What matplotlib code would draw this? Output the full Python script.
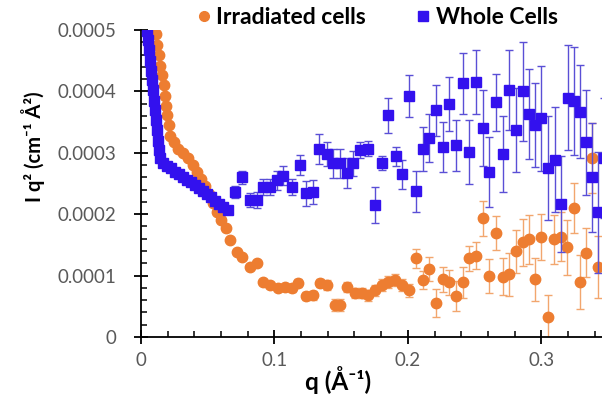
import matplotlib
matplotlib.use('Agg')
import matplotlib.pyplot as plt
from matplotlib.lines import Line2D
from matplotlib.ticker import MultipleLocator, FuncFormatter

plt.rcParams['font.family'] = ['Lato', 'DejaVu Sans']

# Irradiated cells (orange)
q_irr = [0.0112, 0.0120, 0.0135, 0.0142, 0.0157, 0.0172, 0.0180, 0.0187, 0.0195, 0.0210,
         0.0217, 0.0247, 0.0277, 0.0315, 0.0352, 0.0390, 0.0419, 0.0449, 0.0479, 0.0509,
         0.0539, 0.0569, 0.0599, 0.0637, 0.0667, 0.0719, 0.0757, 0.0816, 0.0869, 0.0914,
         0.0966, 0.1026, 0.1079, 0.1131, 0.1176, 0.1236, 0.1288, 0.1341, 0.1393, 0.1453,
         0.1491, 0.1543, 0.1603, 0.1655, 0.1700, 0.1753, 0.1805, 0.1850, 0.1903, 0.1955,
         0.2007, 0.2060, 0.2112, 0.2157, 0.2210, 0.2262, 0.2307, 0.2360, 0.2412, 0.2457,
         0.2509, 0.2562, 0.2607, 0.2659, 0.2712, 0.2757, 0.2809, 0.2861, 0.2906, 0.2951,
         0.2996, 0.3049, 0.3094, 0.3146, 0.3191, 0.3243, 0.3288, 0.3333, 0.3378, 0.3423]
i_irr = [4.94, 4.75, 4.59, 4.42, 4.26, 4.10, 3.93, 3.77, 3.61, 3.45,
         3.28, 3.17, 3.07, 2.99, 2.91, 2.80, 2.68, 2.57, 2.46, 2.33,
         2.18, 2.03, 1.90, 1.77, 1.58, 1.38, 1.30, 1.14, 1.20, 0.89,
         0.85, 0.80, 0.81, 0.80, 0.88, 0.67, 0.68, 0.88, 0.85, 0.52,
         0.52, 0.81, 0.72, 0.72, 0.68, 0.76, 0.85, 0.89, 0.93, 0.85,
         0.76, 1.28, 0.93, 1.11, 0.55, 0.94, 0.89, 0.67, 0.89, 1.28,
         1.32, 1.93, 0.99, 1.69, 0.98, 1.02, 1.40, 1.54, 1.59, 0.94,
         1.63, 0.33, 1.59, 1.63, 1.46, 2.10, 0.89, 1.37, 2.91, 1.14]
e_irr = [0.03, 0.03, 0.03, 0.03, 0.03, 0.03, 0.03, 0.03, 0.03, 0.03,
         0.03, 0.03, 0.03, 0.03, 0.03, 0.03, 0.03, 0.03, 0.03, 0.03,
         0.03, 0.03, 0.04, 0.04, 0.04, 0.05, 0.05, 0.05, 0.05, 0.05,
         0.05, 0.05, 0.06, 0.06, 0.06, 0.07, 0.07, 0.07, 0.08, 0.10,
         0.10, 0.08, 0.08, 0.08, 0.09, 0.09, 0.10, 0.10, 0.10, 0.10,
         0.11, 0.16, 0.15, 0.20, 0.23, 0.20, 0.20, 0.25, 0.25, 0.20,
         0.22, 0.28, 0.28, 0.28, 0.30, 0.35, 0.35, 0.38, 0.40, 0.35,
         0.38, 0.36, 0.40, 0.40, 0.45, 0.41, 0.44, 0.40, 0.57, 0.50]

# Whole cells (blue)
q_whole = [0.0045, 0.0052, 0.0060, 0.0067, 0.0075, 0.0082, 0.0090, 0.0097, 0.0105, 0.0112,
           0.0120, 0.0127, 0.0135, 0.0142, 0.0165, 0.0195, 0.0225, 0.0255, 0.0285, 0.0315,
           0.0345, 0.0375, 0.0404, 0.0434, 0.0464, 0.0494, 0.0524, 0.0554, 0.0584, 0.0614,
           0.0652, 0.0704, 0.0757, 0.0816, 0.0869, 0.0914, 0.0966, 0.1019, 0.1064, 0.1131,
           0.1191, 0.1236, 0.1288, 0.1333, 0.1393, 0.1438, 0.1491, 0.1543, 0.1588, 0.1640,
           0.1700, 0.1753, 0.1805, 0.1850, 0.1910, 0.1955, 0.2007, 0.2060, 0.2112, 0.2157,
           0.2210, 0.2262, 0.2307, 0.2360, 0.2412, 0.2457, 0.2509, 0.2562, 0.2607, 0.2659,
           0.2712, 0.2757, 0.2809, 0.2861, 0.2906, 0.2951, 0.2996, 0.3049, 0.3101, 0.3146,
           0.3199, 0.3243, 0.3288, 0.3333, 0.3378, 0.3423, 0.3468]
i_whole = [4.99, 4.83, 4.67, 4.50, 4.34, 4.18, 4.02, 3.85, 3.69, 3.53,
           3.37, 3.20, 3.04, 2.91, 2.83, 2.78, 2.75, 2.68, 2.65, 2.60,
           2.55, 2.52, 2.47, 2.42, 2.37, 2.33, 2.28, 2.21, 2.16, 2.11,
           2.07, 2.36, 2.60, 2.23, 2.23, 2.44, 2.44, 2.55, 2.63, 2.44,
           2.80, 2.34, 2.36, 3.06, 2.98, 2.83, 2.83, 2.67, 2.83, 3.04,
           3.07, 2.15, 2.83, 3.61, 2.94, 2.65, 3.93, 2.37, 3.06, 3.24,
           3.69, 3.09, 3.80, 3.12, 4.13, 3.01, 4.16, 3.41, 2.68, 3.82,
           2.98, 4.02, 3.37, 4.00, 3.63, 3.45, 3.56, 2.75, 2.89, 2.16,
           3.90, 3.84, 3.67, 3.17, 2.60, 2.03, 2.91]
e_whole = [0.02, 0.02, 0.02, 0.02, 0.02, 0.02, 0.02, 0.02, 0.02, 0.02,
           0.02, 0.02, 0.02, 0.02, 0.02, 0.02, 0.02, 0.02, 0.02, 0.02,
           0.03, 0.03, 0.03, 0.03, 0.03, 0.04, 0.04, 0.04, 0.05, 0.05,
           0.07, 0.10, 0.11, 0.11, 0.13, 0.13, 0.13, 0.15, 0.15, 0.13,
           0.16, 0.20, 0.20, 0.24, 0.20, 0.24, 0.24, 0.24, 0.20, 0.13,
           0.13, 0.29, 0.11, 0.29, 0.16, 0.24, 0.34, 0.33, 0.36, 0.39,
           0.41, 0.41, 0.44, 0.41, 0.49, 0.52, 0.52, 0.62, 0.57, 0.46,
           0.62, 0.65, 0.68, 0.81, 0.73, 0.68, 0.85, 0.85, 0.85, 0.78,
           0.85, 0.88, 0.76, 0.85, 0.89, 0.98, 0.98]

scale = 1e-4
orange = '#ED7D31'
blue = '#3311EE'

fig = plt.figure(figsize=(6.02, 3.98), dpi=100)
ax = fig.add_axes([141 / 602, 61 / 398, 467 / 602, 307 / 398])

ax.errorbar(q_irr, [v * scale for v in i_irr], yerr=[v * scale for v in e_irr],
            fmt='o', color=orange, ms=7.5, mec=orange, ecolor='#F2A66E',
            elinewidth=1, capsize=3, capthick=1, zorder=2)
ax.errorbar(q_whole, [v * scale for v in i_whole], yerr=[v * scale for v in e_whole],
            fmt='s', color=blue, ms=7.2, mec=blue, ecolor='#5A4FD6',
            elinewidth=1, capsize=3, capthick=1, zorder=3)

ax.set_xlim(0, 0.35)
ax.set_ylim(0, 0.0005)

ax.spines['top'].set_visible(False)
ax.spines['right'].set_visible(False)
ax.spines['left'].set_linewidth(1.3)
ax.spines['bottom'].set_linewidth(1.3)

ax.xaxis.set_major_locator(MultipleLocator(0.1))
ax.xaxis.set_minor_locator(MultipleLocator(0.02))
ax.yaxis.set_major_locator(MultipleLocator(0.0001))
ax.yaxis.set_minor_locator(MultipleLocator(0.00002))
ax.xaxis.set_major_formatter(FuncFormatter(lambda v, p: '0' if abs(v) < 1e-9 else '%.1f' % v))
ax.yaxis.set_major_formatter(FuncFormatter(lambda v, p: '0' if abs(v) < 1e-12 else '%.4f' % v))

ax.tick_params(which='major', direction='inout', length=10, width=1.3,
               labelsize=13.5, labelcolor='#595959')
ax.tick_params(axis='y', which='major', pad=13)
ax.tick_params(axis='x', which='major', pad=6)
ax.tick_params(which='minor', direction='in', length=4, width=1.1)

ax.set_xlabel('q (Å⁻¹)', fontsize=17.5, fontweight='bold')
ax.xaxis.set_label_coords(0.422, -0.095)
ax.set_ylabel('I q² (cm⁻¹ Å²)', fontsize=14.5, fontweight='bold')
ax.yaxis.set_label_coords(-0.206, 0.619)

handles = [Line2D([], [], ls='none', marker='o', color=orange, ms=7),
           Line2D([], [], ls='none', marker='s', color=blue, ms=6.5)]
fig.legend(handles, ['Irradiated cells', 'Whole Cells'], loc='center',
           bbox_to_anchor=(0.623, 0.957), ncol=2, frameon=False,
           prop={'weight': 'bold', 'size': 16.5}, handletextpad=0.05,
           handlelength=1.0, columnspacing=2.0)

plt.savefig('out.png', dpi=100)
